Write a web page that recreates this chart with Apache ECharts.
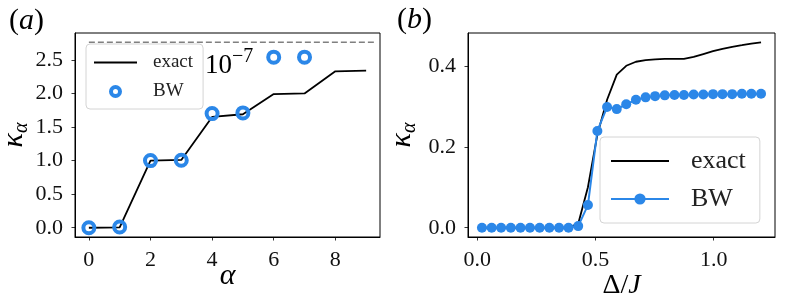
<!DOCTYPE html>
<html><head><meta charset="utf-8">
<script src="https://cdn.jsdelivr.net/npm/echarts@6/dist/echarts.min.js"></script>
<style>html,body{margin:0;padding:0;background:#fff}#c{width:789px;height:302px}</style>
</head><body><div id="c"></div>
<script>
// ---- panel (a) data ----
const alphaVals   = [0, 1, 2, 3, 4, 5, 6, 7, 8, 9];
const exactA      = [0.0, 0.005, 1.0, 1.01, 1.65, 1.69, 1.99, 2.0, 2.33, 2.34];
const bwAlphaVals = [0, 1, 2, 3, 4, 5, 6, 7];
const bwA         = [0.0, 0.01, 1.0, 1.005, 1.70, 1.71, 2.54, 2.54];
const refLineX    = [0, 9.3];
const refLineY    = 2.763;
const ticksAX     = [0, 2, 4, 6, 8];
const ticksAY     = [0, 0.5, 1.0, 1.5, 2.0, 2.5];
// ---- panel (b) data ----
const deltaVals = [0.020, 0.061, 0.101, 0.142, 0.183, 0.223, 0.264, 0.305, 0.346, 0.386,
                   0.427, 0.468, 0.508, 0.549, 0.590, 0.630, 0.671, 0.712, 0.752, 0.793,
                   0.834, 0.874, 0.915, 0.956, 0.997, 1.037, 1.078, 1.119, 1.159, 1.200];
const exactB = [0, 0, 0, 0, 0, 0, 0, 0, 0, 0,
                0.01, 0.10, 0.23, 0.316, 0.378, 0.400, 0.410, 0.414, 0.416, 0.417,
                0.417, 0.417, 0.422, 0.429, 0.436, 0.442, 0.447, 0.451, 0.455, 0.458];
const bwB    = [0, 0, 0, 0, 0, 0, 0, 0, 0, 0,
                0.004, 0.056, 0.239, 0.298, 0.293, 0.305, 0.316, 0.322, 0.325, 0.327,
                0.328, 0.328, 0.329, 0.329, 0.330, 0.330, 0.330, 0.331, 0.331, 0.331];
const ticksBX = [0, 0.5, 1.0];
const ticksBY = [0, 0.2, 0.4];

const SERIF = "'Liberation Serif','Times New Roman',serif";
const BLUE = '#2b87e8';
const zip = (xs, ys) => xs.map((x, i) => [x, ys[i]]);

function axisCommon(ticks, fmt, extra) {
  return Object.assign({
    type: 'value',
    nameMoveOverlap: false,
    axisLine: { show: true, onZero: false, lineStyle: { color: '#000', width: 1 } },
    splitLine: { show: false },
    axisTick: { show: true, inside: false, length: 3.5, lineStyle: { color: '#000', width: 0.8 }, customValues: ticks },
    axisLabel: { customValues: ticks, formatter: fmt, fontFamily: SERIF, fontSize: 22, color: '#111', margin: 12 }
  }, extra);
}
const kappaName = {
  name: '{k|κ}{s|α}',
  nameLocation: 'middle',
  nameRotate: 90,
  nameTextStyle: {
    rich: {
      k: { fontFamily: SERIF, fontStyle: 'italic', fontSize: 30, lineHeight: 36, color: '#000' },
      s: { fontFamily: SERIF, fontStyle: 'italic', fontSize: 20, lineHeight: 20, verticalAlign: 'bottom', color: '#000' }
    }
  }
};
const titleRich = {
  p: { fontFamily: SERIF, fontSize: 30, fontWeight: 'normal', color: '#000' },
  i: { fontFamily: SERIF, fontStyle: 'italic', fontWeight: 'normal', fontSize: 30, color: '#000' }
};

const option = {
  animation: false,
  backgroundColor: '#fff',
  title: [
    { text: '{p|(}{i|a}{p|)}', left: 4, top: 1, textStyle: { fontWeight: 'normal', rich: titleRich } },
    { text: '{p|(}{i|b}{p|)}', left: 392, top: 0, textStyle: { fontWeight: 'normal', rich: titleRich } }
  ],
  grid: [
    { left: 75, right: 409, top: 33, bottom: 65, show: true, borderColor: '#000', borderWidth: 1,
      backgroundColor: 'transparent', outerBoundsMode: 'none', containLabel: false },
    { left: 468, right: 14, top: 33, bottom: 65, show: true, borderColor: '#000', borderWidth: 1,
      backgroundColor: 'transparent', outerBoundsMode: 'none', containLabel: false }
  ],
  xAxis: [
    axisCommon(ticksAX, v => String(v), { gridIndex: 0, min: -0.45, max: 9.45,
      name: 'α', nameLocation: 'middle', nameGap: 24,
      nameTextStyle: { fontFamily: SERIF, fontStyle: 'italic', fontSize: 30, color: '#000' } }),
    axisCommon(ticksBX, v => v.toFixed(1), { gridIndex: 1, min: -0.039, max: 1.259,
      name: '{d|Δ/}{j|J}', nameLocation: 'middle', nameGap: 35,
      nameTextStyle: { rich: {
        d: { fontFamily: SERIF, fontSize: 28, color: '#000' },
        j: { fontFamily: SERIF, fontStyle: 'italic', fontSize: 28, color: '#000' } } } })
  ],
  yAxis: [
    axisCommon(ticksAY, v => v.toFixed(1), Object.assign({ gridIndex: 0, min: -0.138, max: 2.9, nameGap: 43 }, kappaName)),
    axisCommon(ticksBY, v => v.toFixed(1), Object.assign({ gridIndex: 1, min: -0.0229, max: 0.481, nameGap: 48 }, kappaName))
  ],
  legend: [
    { orient: 'vertical', left: 86, top: 44, itemWidth: 43, itemHeight: 9, itemGap: 10,
      padding: [9, 10, 8, 7], selectedMode: false,
      backgroundColor: 'rgba(255,255,255,0.8)', borderColor: '#d4d4d4', borderWidth: 1, borderRadius: 4,
      textStyle: { fontFamily: SERIF, fontSize: 19, color: '#222', padding: [0, 0, 0, 11] },
      data: [
        { name: 'exact', itemStyle: { color: 'rgba(0,0,0,0)', borderWidth: 0 } },
        { name: 'BW', itemStyle: { color: 'rgba(0,0,0,0)', borderColor: BLUE, borderWidth: 4 } }
      ] },
    { orient: 'vertical', left: 600, top: 137, itemWidth: 58, itemHeight: 14, itemGap: 12,
      padding: [11, 14, 11, 10], selectedMode: false,
      backgroundColor: 'rgba(255,255,255,0.8)', borderColor: '#d4d4d4', borderWidth: 1, borderRadius: 4,
      formatter: n => n.replace('_b', ''),
      textStyle: { fontFamily: SERIF, fontSize: 26, color: '#222', padding: [0, 0, 0, 17] },
      data: [{ name: 'exact_b', itemStyle: { color: 'rgba(0,0,0,0)', borderWidth: 0 } }, { name: 'BW_b' }] }
  ],
  graphic: [
    { type: 'text', left: 205, top: 52, style: { text: '10', fontFamily: SERIF, fontSize: 27, fill: '#000' }, z: 20 },
    { type: 'text', left: 232, top: 47, style: { text: '−7', fontFamily: SERIF, fontSize: 20, fill: '#000' }, z: 20 }
  ],
  series: [
    { name: 'ref', type: 'line', xAxisIndex: 0, yAxisIndex: 0, data: refLineX.map(x => [x, refLineY]),
      symbol: 'none', lineStyle: { color: '#808080', width: 1.5, type: [6, 3] }, z: 1 },
    { name: 'exact', type: 'line', xAxisIndex: 0, yAxisIndex: 0, data: zip(alphaVals, exactA),
      symbol: 'none', lineStyle: { color: '#000', width: 1.8 }, itemStyle: { color: '#000' }, z: 2 },
    { name: 'BW', type: 'scatter', xAxisIndex: 0, yAxisIndex: 0, data: zip(bwAlphaVals, bwA),
      symbol: 'circle', symbolSize: 11,
      itemStyle: { color: 'rgba(0,0,0,0)', borderColor: BLUE, borderWidth: 4, opacity: 1 }, z: 3 },
    { name: 'exact_b', type: 'line', xAxisIndex: 1, yAxisIndex: 1, data: zip(deltaVals, exactB),
      symbol: 'none', lineStyle: { color: '#000', width: 1.8 }, itemStyle: { color: '#000' }, z: 2 },
    { name: 'BW_b', type: 'line', xAxisIndex: 1, yAxisIndex: 1, data: zip(deltaVals, bwB),
      symbol: 'circle', symbolSize: 10, showSymbol: true,
      lineStyle: { color: BLUE, width: 2 }, itemStyle: { color: BLUE }, z: 3 }
  ]
};
const chart = echarts.init(document.getElementById('c'), null, { renderer: 'canvas' });
chart.setOption(option);
</script></body></html>
